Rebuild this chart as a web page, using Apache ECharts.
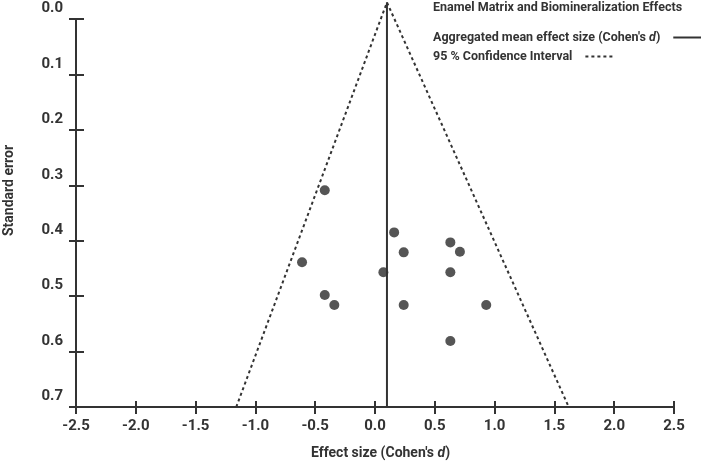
<!DOCTYPE html>
<html>
<head>
<meta charset="utf-8">
<script src="https://cdn.jsdelivr.net/npm/echarts@6/dist/echarts.min.js"></script>
<style>html,body{margin:0;padding:0;background:#fff}#c{width:701px;height:463px}</style>
</head>
<body>
<div id="c"></div>
<script>
// Data
const effectSizes = [-0.42, 0.16, 0.63, 0.24, 0.71, -0.61, 0.07, 0.63, -0.42, -0.34, 0.24, 0.93, 0.63];
const standardErrors = [0.309, 0.385, 0.403, 0.421, 0.420, 0.439, 0.457, 0.457, 0.498, 0.516, 0.516, 0.516, 0.581];
const meanEffect = 0.1;
const meanLineSE = [-0.03, 0.7];
const ciEffect = [-1.16, 0.1, 1.62];
const ciSE = [0.7, -0.03, 0.7];
const xTicks = [-2.5, -2.0, -1.5, -1.0, -0.5, 0.0, 0.5, 1.0, 1.5, 2.0, 2.5];
const yTicks = [0.0, 0.1, 0.2, 0.3, 0.4, 0.5, 0.6, 0.7];
const titleText = 'Enamel Matrix and Biomineralization Effects';
const meanName = "Aggregated mean effect size (Cohen's d)";
const ciName = '95 % Confidence Interval';

const FONT = 'Roboto';
const INK = '#333333';
const chart = echarts.init(document.getElementById('c'), null, {renderer: 'canvas'});

const scatterData = effectSizes.map((x, i) => [x, standardErrors[i]]);
const meanData = meanLineSE.map(s => [meanEffect, s]);
const ciData = ciEffect.map((x, i) => [x, ciSE[i]]);

function italicD(s) {
  return s.split(' d').map((p, i, arr) => '{b|' + p + (i < arr.length - 1 ? ' ' : '') + '}' + (i < arr.length - 1 ? '{i|d}' : '')).join('');
}
const richStyle = (size) => ({
  b: {fontFamily: FONT, fontWeight: 'bold', fontSize: size, color: INK},
  i: {fontFamily: FONT, fontWeight: 'bold', fontStyle: 'italic', fontSize: size, color: INK}
});

const xMin = xTicks[0], xMax = xTicks[xTicks.length - 1];
const yMin = yTicks[0], yMax = yTicks[yTicks.length - 1];

function legendFor(name, top) {
  return {
    orient: 'horizontal', left: 433, top: top, padding: 0,
    align: 'right', itemWidth: 30, itemHeight: 14,
    data: [name],
    selectedMode: false,
    formatter: n => italicD(n),
    itemStyle: {color: 'rgba(0,0,0,0)', borderWidth: 0, opacity: 0},
    textStyle: {fontFamily: FONT, fontWeight: 'bold', fontSize: 12.5, color: INK, padding: [0, 8, 0, 0], rich: richStyle(12.5)}
  };
}

chart.setOption({
  animation: false,
  backgroundColor: '#fff',
  title: {
    text: titleText, left: 433, top: 1, padding: 0,
    textStyle: {fontFamily: FONT, fontWeight: 'bold', fontSize: 12.5, color: INK}
  },
  legend: [legendFor(meanName, 31), legendFor(ciName, 50)],
  grid: {left: 76, right: 27, top: 19, bottom: 56, containLabel: false, outerBoundsMode: 'none'},
  xAxis: [{
    type: 'value', min: xMin, max: xMax, interval: 0.5, position: 'bottom',
    name: italicD("Effect size (Cohen's d)"), nameLocation: 'middle', nameGap: 39,
    nameTextStyle: {fontFamily: FONT, fontWeight: 'bold', fontSize: 14, color: INK, padding: [0, 0, 0, 11], rich: richStyle(14)},
    axisLine: {onZero: false, lineStyle: {color: INK, width: 2}},
    axisTick: {show: true, inside: false, length: 7, lineStyle: {color: INK, width: 2}},
    axisLabel: {margin: 12, fontFamily: FONT, fontWeight: 'bold', fontSize: 15, color: INK, formatter: v => v.toFixed(1)},
    splitLine: {show: false}
  }, {
    type: 'value', min: xMin, max: xMax, interval: 0.5, position: 'bottom', gridIndex: 0,
    axisLine: {show: false, onZero: false},
    axisTick: {show: true, inside: true, length: 6, lineStyle: {color: INK, width: 2}},
    axisLabel: {show: false}, splitLine: {show: false}
  }],
  yAxis: [{
    type: 'value', min: yMin, max: yMax, interval: 0.1, inverse: true, position: 'left',
    name: 'Standard error', nameLocation: 'middle', nameRotate: 90, nameGap: 60,
    nameTextStyle: {fontFamily: FONT, fontWeight: 'bold', fontSize: 14, color: INK, padding: [0, 0, 0, 45]},
    axisLine: {onZero: false, lineStyle: {color: INK, width: 2}},
    axisTick: {show: true, inside: false, length: 7, lineStyle: {color: INK, width: 2}},
    axisLabel: {margin: 13, fontFamily: FONT, fontWeight: 'bold', fontSize: 15, color: INK,
      verticalAlign: 'bottom', lineHeight: 15, padding: [0, 0, 3, 0], formatter: v => v.toFixed(1)},
    splitLine: {show: false}
  }, {
    type: 'value', min: yMin, max: yMax, interval: 0.1, inverse: true, position: 'left', gridIndex: 0,
    axisLine: {show: false, onZero: false},
    axisTick: {show: true, inside: true, length: 8, lineStyle: {color: INK, width: 2}},
    axisLabel: {show: false}, splitLine: {show: false}
  }],
  series: [{
    name: ciName, type: 'line', data: ciData, symbol: 'none', clip: false, silent: true,
    lineStyle: {color: INK, width: 2, type: [3, 3]}, itemStyle: {color: INK}
  }, {
    name: meanName, type: 'line', data: meanData, symbol: 'none', clip: false, silent: true,
    lineStyle: {color: INK, width: 2}, itemStyle: {color: INK}
  }, {
    name: 'Studies', type: 'scatter', data: scatterData, symbol: 'circle', symbolSize: 10,
    itemStyle: {color: '#555555', opacity: 1}
  }]
});
</script>
</body>
</html>
